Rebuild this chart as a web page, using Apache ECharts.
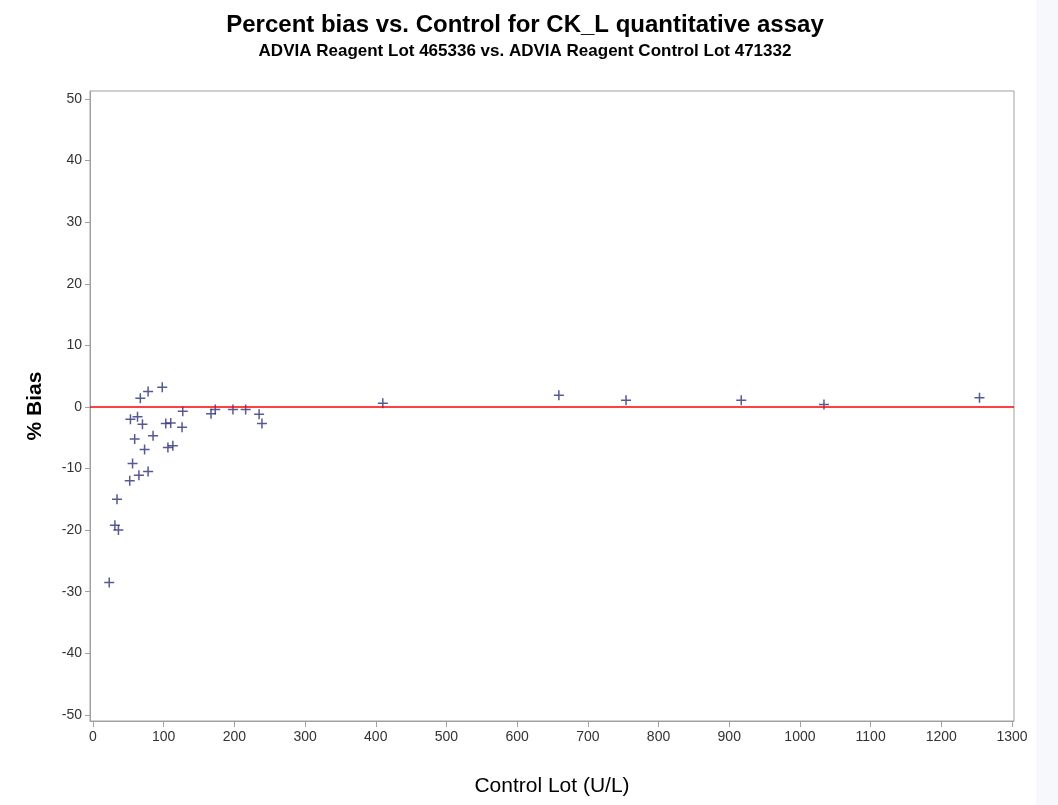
<!DOCTYPE html>
<html>
<head>
<meta charset="utf-8">
<script src="https://cdn.jsdelivr.net/npm/echarts@6/dist/echarts.min.js"></script>
<style>
html,body{margin:0;padding:0;background:#fff;}
#chart{width:1058px;height:805px;}
</style>
</head>
<body>
<div id="chart"></div>
<script>
// Data
var controlLot = [23, 31, 36, 34, 52, 56, 65, 78, 59, 73, 85, 53, 63, 70, 67, 78, 98, 103, 110, 106, 113, 126, 127, 167, 173, 198, 216, 235, 239, 410, 659, 754, 917, 1034, 1254];
var pctBias    = [-28.5, -19.2, -20.0, -15.0, -12.0, -9.2, -11.1, -10.5, -5.2, -6.9, -4.7, -2.0, -1.6, -2.8, 1.4, 2.5, 3.2, -2.7, -2.6, -6.6, -6.3, -3.3, -0.7, -1.1, -0.4, -0.4, -0.4, -1.2, -2.7, 0.6, 1.9, 1.1, 1.1, 0.4, 1.5];
var xTicks = [0,100,200,300,400,500,600,700,800,900,1000,1100,1200,1300];
var yTicks = [-50,-40,-30,-20,-10,0,10,20,30,40,50];

var points = controlLot.map(function(x, i){ return [x, pctBias[i]]; });

var chart = echarts.init(document.getElementById('chart'), null, {renderer:'canvas'});
var FF = 'Liberation Sans, Arial, sans-serif';
chart.setOption({
  animation:false,
  backgroundColor:'#fff',
  graphic:[{type:'rect', right:0, top:0, shape:{width:22, height:805}, style:{fill:'#f7f8fb'}, silent:true, z:-10}],
  title:[{
    text:'Percent bias vs. Control for CK_L quantitative assay',
    left:520, top:8, textAlign:'center',
    textStyle:{fontFamily:FF, fontWeight:'bold', fontSize:24, color:'#000'}
  },{
    text:'ADVIA Reagent Lot 465336 vs. ADVIA Reagent Control Lot 471332',
    left:520, top:38, textAlign:'center',
    textStyle:{fontFamily:FF, fontWeight:'bold', fontSize:17, color:'#000'}
  }],
  grid:{left:90, right:44, top:91, bottom:84, show:true, borderColor:'#a0a0a0', borderWidth:1, backgroundColor:'#fff'},
  xAxis:{
    type:'value', min:-4.2, max:1302.8,
    name:'Control Lot (U/L)', nameLocation:'middle', nameGap:55,
    nameTextStyle:{fontFamily:FF, fontSize:21, color:'#000'},
    axisLine:{show:true, onZero:false, lineStyle:{color:'#a0a0a0'}},
    axisTick:{show:true, length:6, customValues:xTicks, lineStyle:{color:'#a0a0a0'}},
    axisLabel:{margin:9, customValues:xTicks, fontFamily:FF, fontSize:14, color:'#333',
      formatter:function(v){ return String(v); }},
    splitLine:{show:false}
  },
  yAxis:{
    type:'value', min:-51, max:51.3,
    name:'% Bias', nameLocation:'middle', nameGap:44, nameRotate:90,
    nameTextStyle:{fontFamily:FF, fontSize:21, fontWeight:'bold', color:'#000'},
    axisLine:{show:true, onZero:false, lineStyle:{color:'#a0a0a0'}},
    axisTick:{show:true, length:5, customValues:yTicks, lineStyle:{color:'#a0a0a0'}},
    axisLabel:{margin:8, customValues:yTicks, fontFamily:FF, fontSize:14, color:'#333',
      formatter:function(v){ return String(v); }},
    splitLine:{show:false}
  },
  series:[{
    type:'scatter',
    data:points,
    symbol:'path://M5,0 L5,10 M0,5 L10,5',
    symbolSize:10,
    itemStyle:{color:'none', borderColor:'#2c3078', borderWidth:1.5},
    markLine:{
      silent:true, symbol:'none', label:{show:false},
      lineStyle:{color:'#ff0000', width:1.5, type:'solid'},
      data:[{yAxis:0}]
    }
  }]
});
</script>
</body>
</html>
